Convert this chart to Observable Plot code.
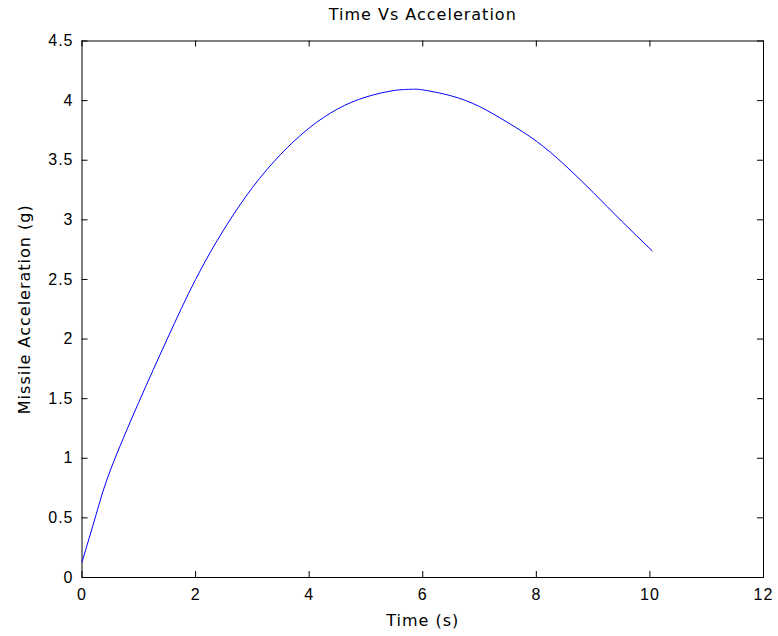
<!DOCTYPE html>
<html>
<head>
<meta charset="utf-8">
<script src="https://cdn.jsdelivr.net/npm/d3@7"></script>
<script src="https://cdn.jsdelivr.net/npm/@observablehq/plot@0.6"></script>
<style>
  html, body { margin: 0; padding: 0; background: #fff; }
  #chart svg { display: block; }
</style>
</head>
<body>
<div id="chart"></div>
<script>
const title = "Time Vs Acceleration";
const xLabel = "Time (s)";
const yLabel = "Missile Acceleration (g)";

const xTicks = [0, 2, 4, 6, 8, 10, 12];
const yTicks = [0, 0.5, 1, 1.5, 2, 2.5, 3, 3.5, 4, 4.5];

const time  = [0, 0.25, 0.5, 1.0, 1.5, 2.0, 2.5, 3.0, 3.5, 4.0, 4.5, 5.0, 5.5, 5.8, 6.0, 6.5, 7.0, 7.5, 8.0, 8.5, 9.0, 9.5, 10.04];
const accel = [0.13, 0.53, 0.90, 1.47, 2.0, 2.50, 2.92, 3.27, 3.55, 3.77, 3.93, 4.03, 4.085, 4.095, 4.09, 4.04, 3.95, 3.815, 3.66, 3.46, 3.23, 2.99, 2.74];

const data = time.map((t, i) => ({t, a: accel[i]}));

const W = 778, H = 636;
const mL = 81.5, mR = 15, mT = 40.5, mB = 59;
const tickLen = 6;
const plotW = W - mL - mR, plotH = H - mT - mB;

const labelFont = {fontFamily: "DejaVu Sans", fontSize: 16, fill: "black", textAnchor: "middle", lineAnchor: "middle"};

const chart = Plot.plot({
  width: W,
  height: H,
  marginLeft: mL,
  marginRight: mR,
  marginTop: mT,
  marginBottom: mB,
  style: {fontFamily: "Liberation Sans, Arial, sans-serif", fontSize: "16px", color: "black", background: "white", letterSpacing: "1px"},
  x: {domain: [0, 12]},
  y: {domain: [0, 4.5]},
  marks: [
    Plot.axisX({ticks: xTicks, anchor: "bottom", tickSize: 0, tickPadding: 11, label: null, tickFormat: d => String(d)}),
    Plot.axisY({ticks: yTicks, anchor: "left", tickSize: 0, tickPadding: 8.5, label: null, tickFormat: d => String(d)}),
    Plot.tickX(xTicks, {x: d => d, insetTop: plotH - tickLen, stroke: "black"}),
    Plot.tickX(xTicks, {x: d => d, insetBottom: plotH - tickLen, stroke: "black"}),
    Plot.tickY(yTicks, {y: d => d, insetRight: plotW - tickLen, stroke: "black"}),
    Plot.tickY(yTicks, {y: d => d, insetLeft: plotW - tickLen, stroke: "black"}),
    Plot.frame({stroke: "black", strokeWidth: 1}),
    Plot.line(data, {x: "t", y: "a", stroke: "#0000ff", strokeWidth: 1, curve: "natural"}),
    Plot.text([title], {frameAnchor: "top", dy: -26, ...labelFont, style: "letter-spacing:1.2px"}),
    Plot.text([xLabel], {frameAnchor: "bottom", dy: 43, ...labelFont}),
    Plot.text([yLabel], {frameAnchor: "left", rotate: -90, dx: -57, ...labelFont})
  ]
});
document.getElementById("chart").appendChild(chart);
</script>
</body>
</html>
